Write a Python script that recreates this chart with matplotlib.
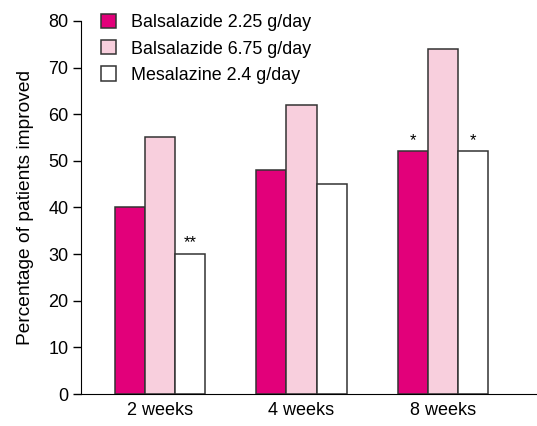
import matplotlib.pyplot as plt
import numpy as np

plt.rcParams['font.family'] = ['Liberation Sans', 'DejaVu Sans']

# data
weeks = ['2 weeks', '4 weeks', '8 weeks']
series = ['Balsalazide 2.25 g/day', 'Balsalazide 6.75 g/day', 'Mesalazine 2.4 g/day']
bals_225 = [40, 48, 52]
bals_675 = [55, 62, 74]
mesal_24 = [30, 45, 52]
colors = ['#E2007A', '#F8CFDD', '#FFFFFF']
# significance marks: (group, series index, label)
marks = [(0, 2, '**'), (2, 0, '*'), (2, 2, '*')]

fig = plt.figure(figsize=(5.37, 4.26), dpi=100)
ax = fig.add_axes([0.151, 0.075, 0.847, 0.876])

x = np.arange(len(weeks))
w = 0.212
values = [bals_225, bals_675, mesal_24]
for i, (vals, c, lab) in enumerate(zip(values, colors, series)):
    ax.bar(x + (i - 1) * w, vals, w, color=c, edgecolor='#333333', linewidth=1.1, label=lab)

for g, s, txt in marks:
    ax.text(x[g] + (s - 1) * w, values[s][g] + 0.8, txt, ha='center', va='bottom', fontsize=12)

ax.set_xlim(-0.556, 2.655)
ax.set_ylim(0, 80)
ax.set_yticks(range(0, 81, 10))
ax.set_xticks(x)
ax.set_xticklabels(weeks, fontsize=13)
ax.tick_params(axis='x', length=0, pad=6)
ax.tick_params(axis='y', labelsize=13, length=6, width=1, pad=3)
ax.spines['top'].set_visible(False)
ax.spines['right'].set_visible(False)
ax.set_ylabel('Percentage of patients improved', fontsize=13.8, labelpad=10)

ax.legend(loc='upper left', bbox_to_anchor=(0.008, 1.062), frameon=False, fontsize=12.9,
          handlelength=0.85, handleheight=0.85, handletextpad=0.85, labelspacing=0.5)

fig.savefig('out.png', dpi=100)
